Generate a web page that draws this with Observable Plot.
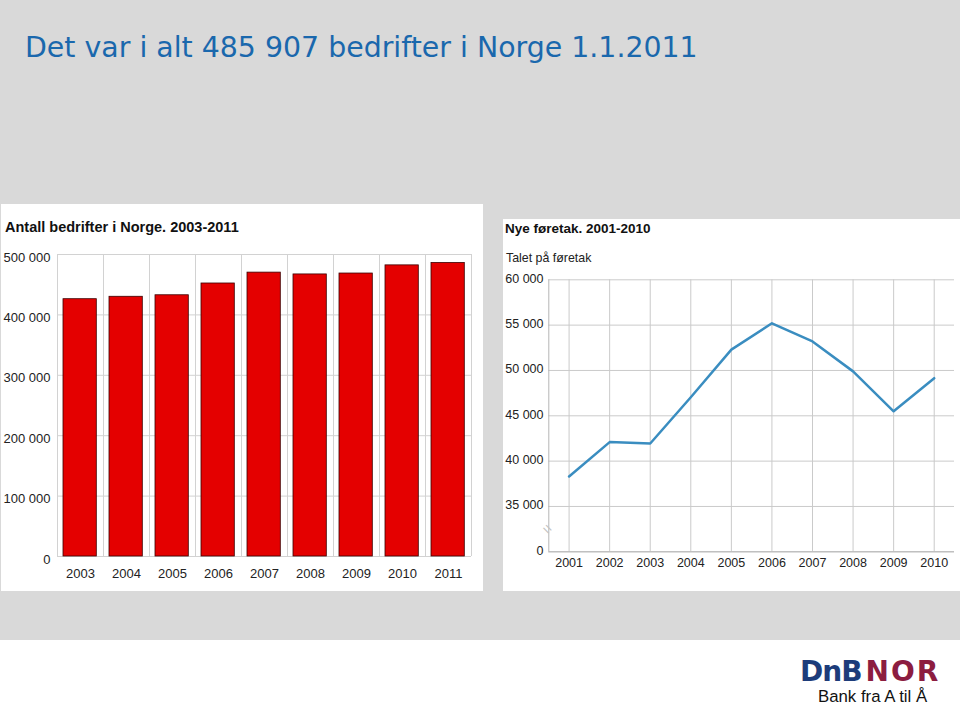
<!DOCTYPE html>
<html>
<head>
<meta charset="utf-8">
<script src="https://cdn.jsdelivr.net/npm/d3@7"></script>
<script src="https://cdn.jsdelivr.net/npm/@observablehq/plot@0.6"></script>
<style>
  html, body { margin: 0; padding: 0; background: #ffffff; width: 960px; height: 709px; overflow: hidden; }
  #bg { position: absolute; left: 0; top: 0; width: 960px; height: 640px; background: #d9d9d9; }
  .abs { position: absolute; white-space: nowrap; }
  #title { left: 25px; top: 31px; font-family: "DejaVu Sans", Verdana, sans-serif; font-size: 28.4px; color: #1a68ad; line-height: normal; }
  .panel { position: absolute; background: #ffffff; }
  #panelA { left: 1px; top: 204px; width: 482px; height: 387px; }
  #panelB { left: 503px; top: 219px; width: 457px; height: 372px; }
  #titleA { left: 5px; top: 219px; font-family: "Liberation Sans", Arial, sans-serif; font-weight: bold; font-size: 14.5px; color: #111; line-height: normal; }
  #titleB { left: 505px; top: 221px; font-family: "Liberation Sans", Arial, sans-serif; font-weight: bold; font-size: 13.5px; color: #111; line-height: normal; }
  #subB { left: 506px; top: 251px; font-family: "Liberation Sans", Arial, sans-serif; font-size: 12.4px; color: #222; line-height: normal; }
  #chartA { position: absolute; left: 0px; top: 240px; }
  #chartB { position: absolute; left: 503px; top: 270px; }
  #logo { left: 800px; top: 655px; font-family: "DejaVu Sans", Verdana, sans-serif; font-weight: bold; font-size: 28px; line-height: normal; }
  #logo .dnb { color: #1d3c7a; letter-spacing: -1px; }
  #logo .nor { color: #8c1d40; letter-spacing: 2px; margin-left: 4px; }
  #slogan { left: 818px; top: 688px; font-family: "Liberation Sans", Arial, sans-serif; font-size: 16.8px; color: #111; line-height: 1.1; }
</style>
</head>
<body>
<div id="bg"></div>
<div id="title" class="abs">Det var i alt 485 907 bedrifter i Norge 1.1.2011</div>
<div id="panelA" class="panel"></div>
<div id="panelB" class="panel"></div>
<div id="titleA" class="abs">Antall bedrifter i Norge. 2003-2011</div>
<div id="titleB" class="abs">Nye føretak. 2001-2010</div>
<div id="subB" class="abs">Talet på føretak</div>
<div id="chartA"></div>
<div id="chartB"></div>
<div id="logo" class="abs"><span class="dnb">DnB</span><span class="nor">NOR</span></div>
<div id="slogan" class="abs">Bank fra A til Å</div>
<script>
// ---- Data: left chart (bedrifter) ----
const yearsA = [2003, 2004, 2005, 2006, 2007, 2008, 2009, 2010, 2011];
const bedrifter = [426000, 430000, 432500, 452000, 470000, 467000, 468500, 482000, 485907];
const yTicksA = [0, 100000, 200000, 300000, 400000, 500000];

// ---- Data: right chart (nye føretak) ----
const yearsB = [2001, 2002, 2003, 2004, 2005, 2006, 2007, 2008, 2009, 2010];
const nyeForetak = [38300, 42100, 41950, 47050, 52300, 55200, 53200, 49900, 45500, 49150];
const yTicksB = [30000, 35000, 40000, 45000, 50000, 55000, 60000];
const yTickLabelsB = ["0", "35 000", "40 000", "45 000", "50 000", "55 000", "60 000"];
const axisBreakValue = 32500;

const fmt = d3.formatLocale({decimal: ",", thousands: " ", grouping: [3], currency: ["", ""]}).format(",");

const dataA = yearsA.map((year, i) => ({year, value: bedrifter[i]}));
const dataB = yearsB.map((year, i) => ({year, value: nyeForetak[i]}));
const boundariesA = [...yearsA, yearsA[yearsA.length - 1] + 1];

const chartA = Plot.plot({
  width: 483,
  height: 350,
  marginTop: 14,
  marginBottom: 34,
  marginLeft: 57,
  marginRight: 12,
  x: {domain: [yearsA[0], yearsA[yearsA.length - 1] + 1], axis: null},
  y: {domain: [0, 500000], axis: null},
  style: {fontFamily: "'Liberation Sans', Arial, sans-serif", fontSize: "13px", color: "#222", background: "transparent"},
  marks: [
    Plot.ruleY(yTicksA, {stroke: "#d2d2d2", strokeOpacity: 1}),
    Plot.ruleX(boundariesA, {stroke: "#d2d2d2", strokeOpacity: 1}),
    Plot.rectY(dataA, {x1: "year", x2: d => d.year + 1, y: "value", fill: "#e40000", stroke: "#3a0000", strokeWidth: 0.8, insetLeft: 6, insetRight: 6.7}),
    Plot.axisX(yearsA.map(y => y + 0.5), {tickSize: 0, tickPadding: 12.5, tickFormat: d => String(d - 0.5), fontSize: 13, label: null}),
    Plot.axisY(yTicksA, {tickSize: 0, tickPadding: 7, tickFormat: fmt, dy: 3, fontSize: 13, label: null})
  ]
});
document.getElementById("chartA").append(chartA);

const chartB = Plot.plot({
  width: 457,
  height: 320,
  marginTop: 9.3,
  marginBottom: 38.7,
  marginLeft: 45.3,
  marginRight: 6,
  x: {domain: [yearsB[0] - 0.5, yearsB[yearsB.length - 1] + 0.5], axis: null},
  y: {domain: [yTicksB[0], yTicksB[yTicksB.length - 1]], axis: null},
  style: {fontFamily: "'Liberation Sans', Arial, sans-serif", fontSize: "12.5px", color: "#222", background: "transparent"},
  marks: [
    Plot.ruleY(yTicksB, {stroke: "#cacaca", strokeOpacity: 1}),
    Plot.ruleX(yearsB, {stroke: "#cacaca", strokeOpacity: 1}),
    Plot.ruleX([yearsB[0] - 0.5], {stroke: "#b5b5b5", strokeOpacity: 1}),
    Plot.ruleY([yTicksB[0]], {stroke: "#b5b5b5", strokeOpacity: 1}),
    Plot.text(["="], {x: () => yearsB[0] - 0.5, y: () => axisBreakValue, text: d => d, rotate: 45, fontSize: 15, fill: "#c2c2c2", dx: -1.5}),
    Plot.line(dataB, {x: "year", y: "value", stroke: "#3a8dc0", strokeWidth: 2.5}),
    Plot.axisX(yearsB, {tickSize: 0, tickPadding: 6, tickFormat: d => String(d), fontSize: 12.5, label: null}),
    Plot.axisY(yTicksB, {tickSize: 0, tickPadding: 5.3, tickFormat: d => yTickLabelsB[yTicksB.indexOf(d)], dy: -1, fontSize: 12.5, label: null})
  ]
});
document.getElementById("chartB").append(chartB);
</script>
</body>
</html>
